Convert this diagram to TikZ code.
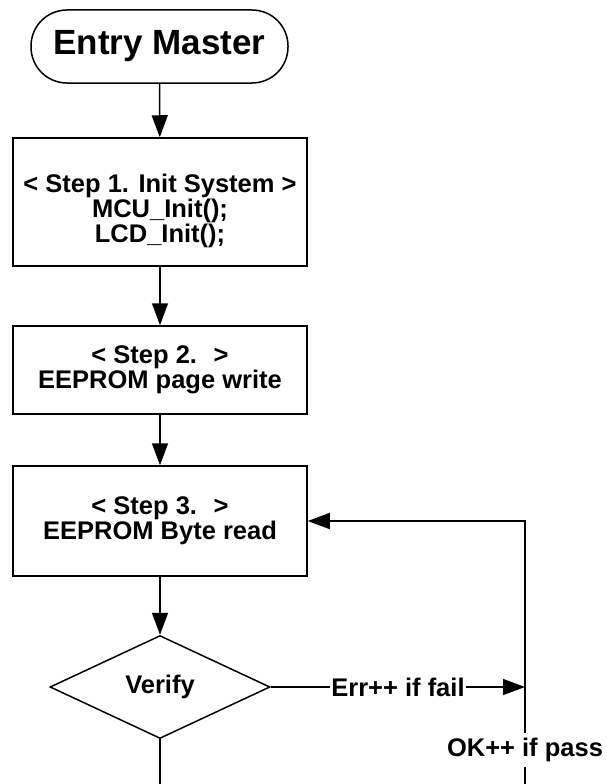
\documentclass[tikz,border=0pt]{standalone}
\usepackage{fontspec}
\setmainfont{Liberation Sans}
\usepackage{tikz}
\usetikzlibrary{shapes.geometric, arrows.meta, positioning}

\tikzset{
  startbox/.style={draw, line width=1.5pt, rounded corners=36pt, minimum width=257pt, minimum height=73pt, inner sep=0pt, font=\bfseries\fontsize{35}{35}\selectfont},
  stepbox/.style={draw, line width=1.5pt, minimum width=294pt, inner sep=0pt, align=center, font=\bfseries\fontsize{25.5}{25}\selectfont},
  checkbox/.style={draw, diamond, aspect=2.136, line width=1.5pt, minimum width=220pt, minimum height=103pt, inner sep=0pt, font=\bfseries\fontsize{25.5}{25}\selectfont},
  edgelabel/.style={fill=white, inner xsep=1pt, inner ysep=5pt, font=\bfseries\fontsize{25.5}{25}\selectfont},
  flow/.style={-{Triangle[length=22pt, width=16pt]}, line width=1.5pt},
  plain/.style={line width=1.5pt}
}

\begin{document}
\begin{tikzpicture}[x=1pt, y=-1pt]
  \useasboundingbox (0,0) rectangle (606,784);

  % Steps
  \node[startbox] (entry) at (159.5,46.5) {Entry Master};
  \node[stepbox, minimum height=128pt] (init) at (160,202) {\rule{0pt}{37pt}< Step 1. Init System >\\MCU\_Init();\\LCD\_Init();};
  \node[stepbox, minimum height=88pt] (write) at (160,370) {< Step 2.~ >\\EEPROM page write};
  \node[stepbox, minimum height=110pt] (read) at (160,521) {< Step 3.~ >\\EEPROM Byte read};
  \node[checkbox] (verify) at (160,687) {Verify};

  % Loop ends (run off the page)
  \coordinate (exitbot) at (160,784);
  \coordinate (loopbot) at (525,784);

  % Labels
  \node[edgelabel] (errfail) at (398,687) {Err++ if fail};
  \node[edgelabel] (okpass) at (525,750) {OK++ if pass};

  % Arrows
  \draw[flow] (entry) -- (init);
  \draw[flow] (init) -- (write);
  \draw[flow] (write) -- (read);
  \draw[flow] (read) -- (verify);
  \draw[plain] (verify.east) -- (errfail.west);
  \draw[flow] (errfail.east) -- (errfail -| loopbot);
  \draw[plain] (loopbot) -- (okpass.south);
  \draw[flow] (okpass.north) |- (read.east);
  \draw[plain] (verify.south) -- (exitbot);
\end{tikzpicture}
\end{document}
